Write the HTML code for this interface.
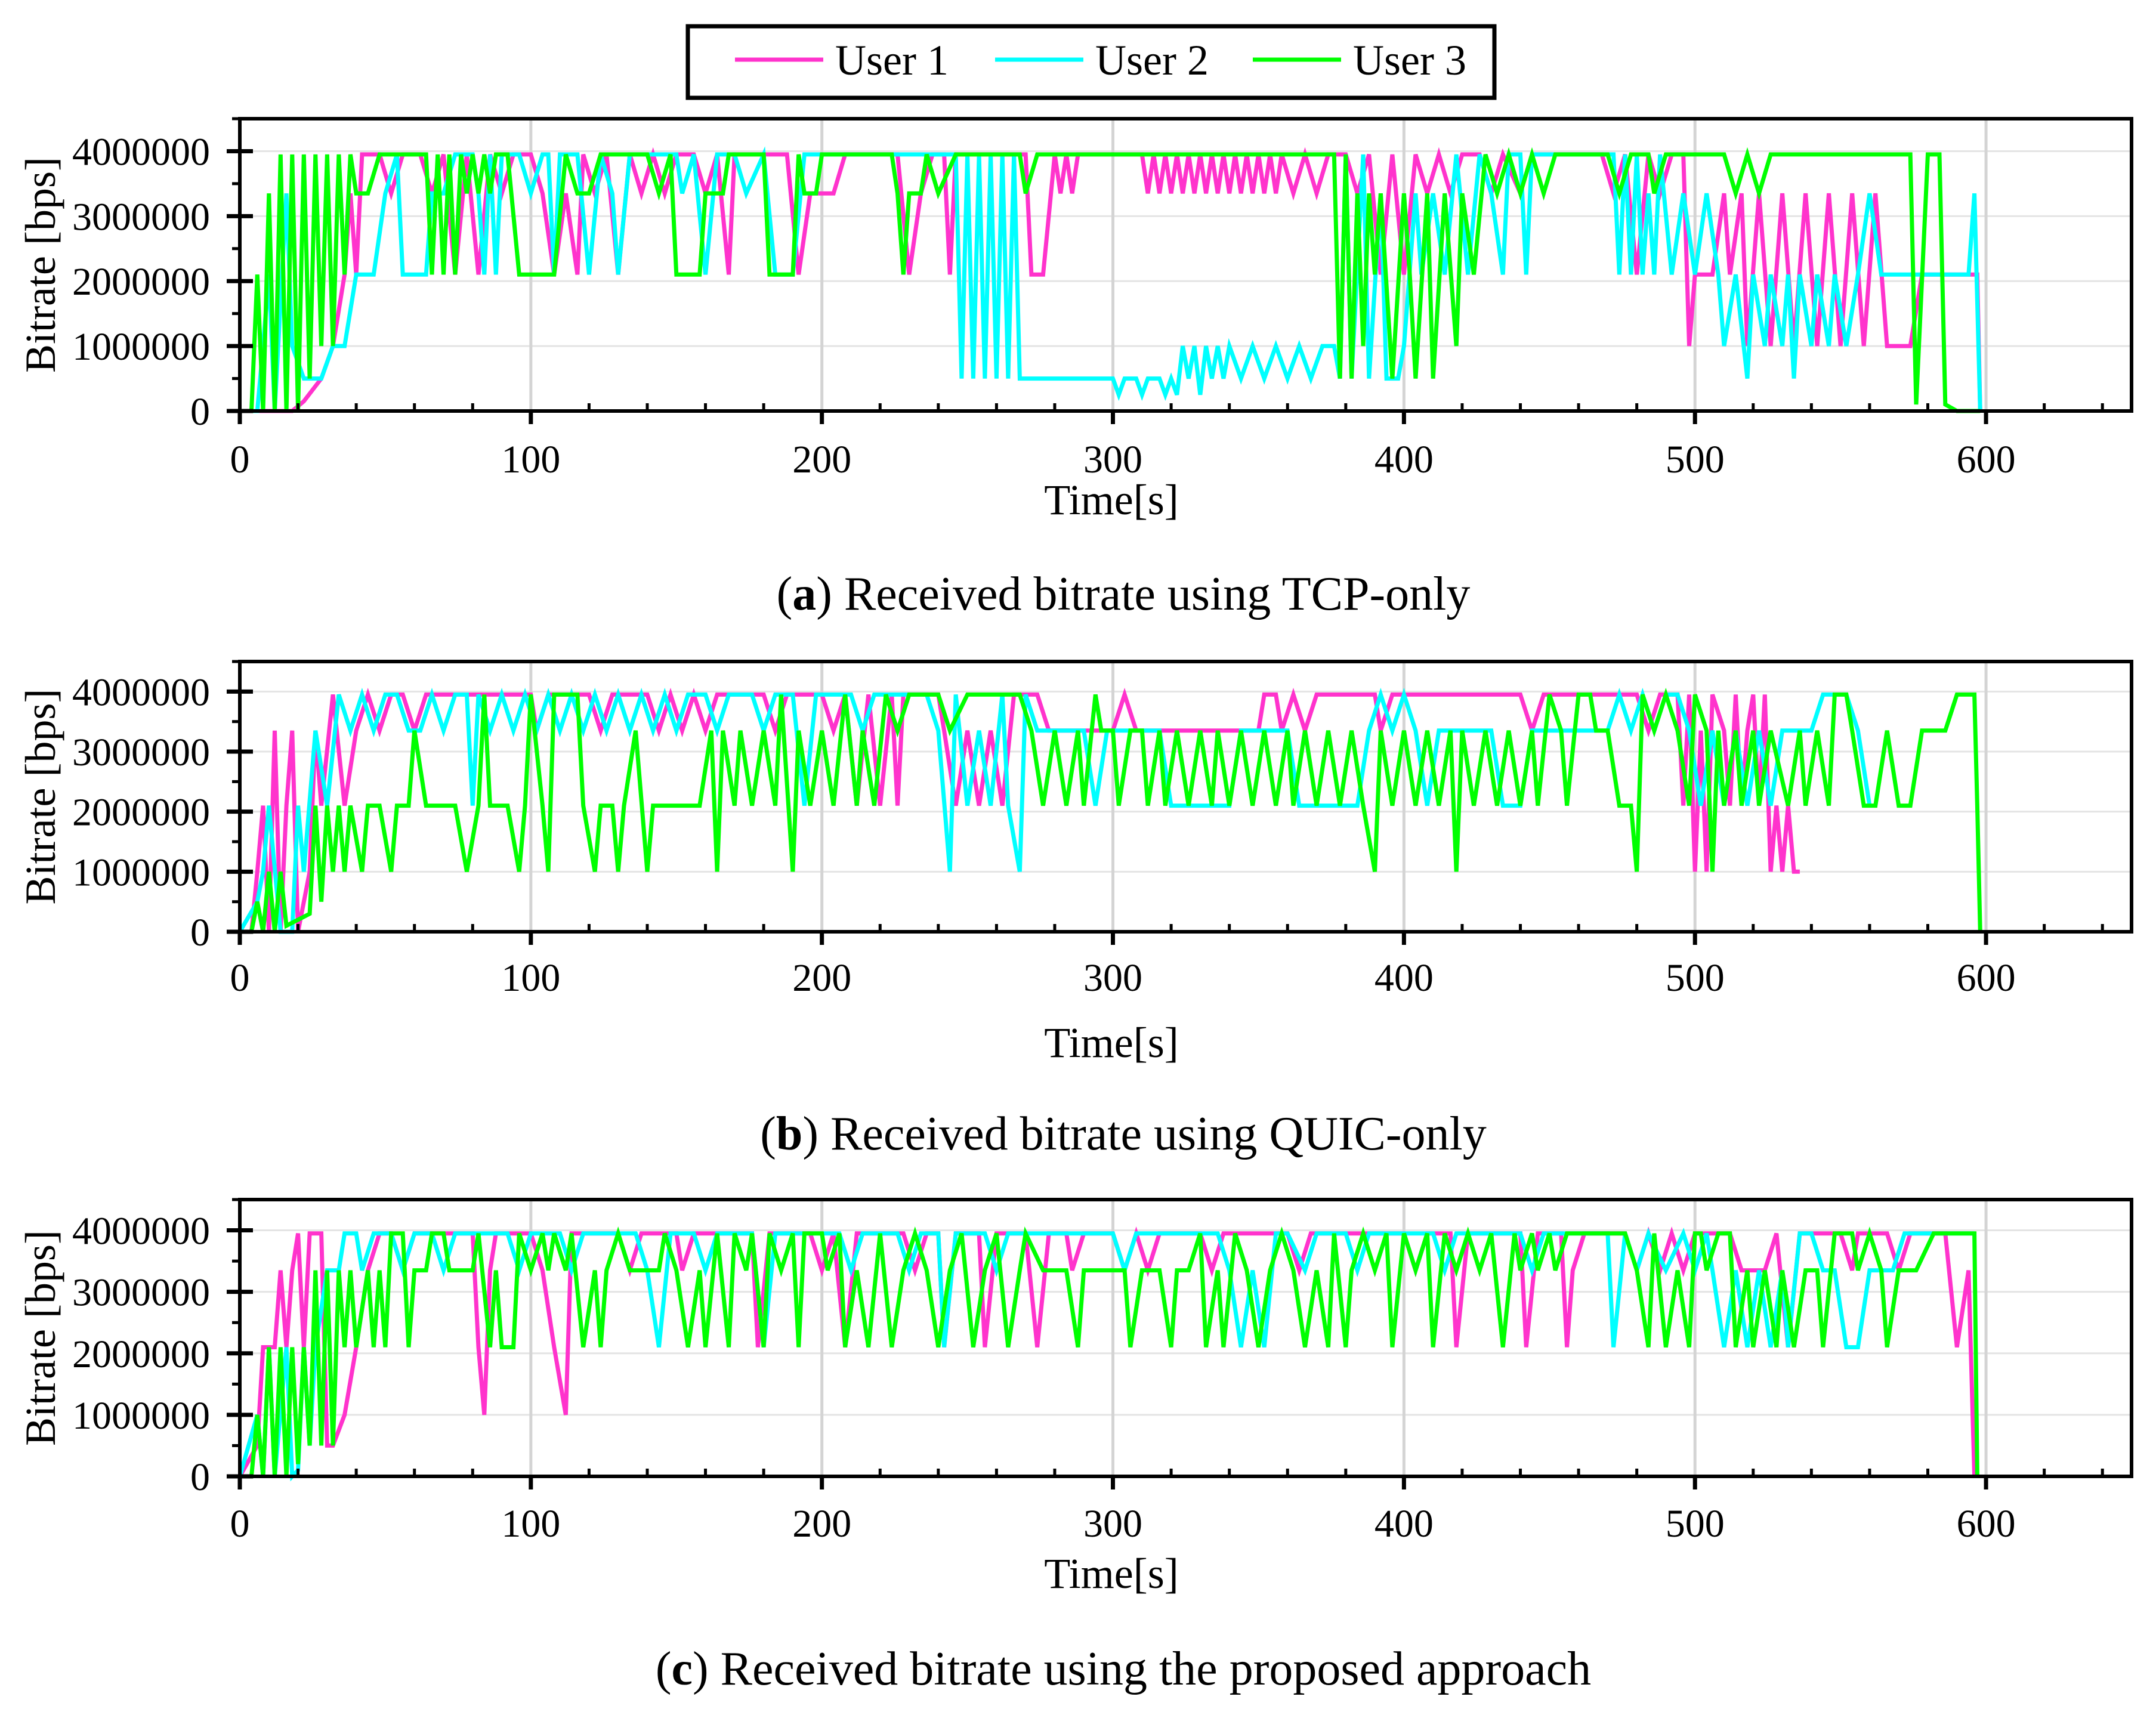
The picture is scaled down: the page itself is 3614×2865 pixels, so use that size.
<!DOCTYPE html>
<html><head><meta charset="utf-8"><style>
html,body{margin:0;padding:0;background:#fff;}
svg{display:block;font-family:"Liberation Serif",serif;}
</style></head><body>
<svg id="chart" width="3614" height="2865" viewBox="0 0 3614 2865" xmlns="http://www.w3.org/2000/svg">
<g>
<rect x="1153" y="44" width="1352" height="120" fill="#fff" stroke="#000" stroke-width="7"/>
<g><line x1="1232" y1="100" x2="1380" y2="100" stroke="#ff33cc" stroke-width="7"/><text x="1400" y="125" font-size="72">User 1</text></g>
<g><line x1="1668" y1="100" x2="1816" y2="100" stroke="#00ffff" stroke-width="7"/><text x="1836" y="125" font-size="72">User 2</text></g>
<g><line x1="2100" y1="100" x2="2248" y2="100" stroke="#00ff00" stroke-width="7"/><text x="2268" y="125" font-size="72">User 3</text></g>
</g>
</svg>
<script>
// values in kbps, time in s
const yTicks = [0, 1000000, 2000000, 3000000, 4000000];
const yTickLabels = ["0","1000000","2000000","3000000","4000000"];
const xTicks = [0,100,200,300,400,500,600];
const xTickLabels = ["0","100","200","300","400","500","600"];
const captionsLetters = ["a","b","c"];
const captionsText = [" Received bitrate using TCP-only"," Received bitrate using QUIC-only"," Received bitrate using the proposed approach"];

const tcpUser1 = [[0,0],[18,0],[22,150],[28,500],[32,1000],[36,2100],[38,3350],[40,2100],[42,3950],[48,3950],[52,3350],[56,3950],[62,3950],[66,3350],[70,3950],[74,2100],[78,3950],[82,2100],[86,3950],[90,3350],[94,3950],[100,3950],[104,3350],[108,2100],[112,3350],[116,2100],[118,3950],[122,3350],[126,3950],[130,2100],[134,3950],[138,3350],[142,3950],[146,3350],[150,3950],[156,3950],[160,3350],[164,3950],[168,2100],[170,3950],[188,3950],[192,2100],[196,3350],[204,3350],[208,3950],[226,3950],[230,2100],[234,3350],[238,3950],[242,3950],[244,2100],[246,3950],[270,3950],[272,2100],[276,2100],[280,3950],[282,3350],[284,3950],[286,3350],[288,3950],[310,3950],[312,3350],[314,3950],[316,3350],[318,3950],[320,3350],[322,3950],[324,3350],[326,3950],[328,3350],[330,3950],[332,3350],[334,3950],[336,3350],[338,3950],[340,3350],[342,3950],[344,3350],[346,3950],[348,3350],[350,3950],[352,3350],[354,3950],[356,3350],[358,3950],[362,3350],[366,3950],[370,3350],[374,3950],[380,3950],[384,3350],[388,3950],[392,2100],[396,3950],[400,2100],[404,3950],[408,3350],[412,3950],[416,3350],[420,3950],[426,3950],[430,3350],[434,3950],[440,3350],[444,3950],[468,3950],[472,3350],[476,3950],[480,2100],[484,3950],[488,3350],[492,3950],[496,3950],[498,1000],[500,2100],[506,2100],[510,3350],[512,2100],[516,3350],[518,1000],[522,3350],[526,1000],[530,3350],[534,1000],[538,3350],[542,1000],[546,3350],[550,1000],[554,3350],[558,1000],[562,3350],[566,1000],[574,1000],[578,2100],[597,2100],[598,0]];
const tcpUser2 = [[0,0],[6,0],[8,1000],[10,2100],[12,0],[16,3350],[18,1000],[22,500],[28,500],[32,1000],[36,1000],[40,2100],[46,2100],[50,3350],[54,3950],[56,2100],[64,2100],[66,3350],[70,3350],[74,3950],[80,3950],[82,3350],[84,2100],[86,3950],[88,2100],[90,3950],[96,3950],[100,3350],[104,3950],[106,3950],[108,2100],[110,3950],[116,3950],[120,2100],[124,3950],[128,3350],[130,2100],[134,3950],[150,3950],[152,3350],[156,3950],[160,2100],[164,3950],[170,3950],[174,3350],[180,3950],[184,2100],[190,2100],[194,3950],[246,3950],[248,500],[250,3950],[252,500],[254,3950],[256,500],[258,3950],[260,500],[262,3950],[264,500],[266,3950],[268,500],[300,500],[302,250],[304,500],[308,500],[310,250],[312,500],[316,500],[318,250],[320,500],[322,250],[324,1000],[326,500],[328,1000],[330,250],[332,1000],[334,500],[336,1000],[338,500],[340,1000],[344,500],[348,1000],[352,500],[356,1000],[360,500],[364,1000],[368,500],[372,1000],[376,1000],[378,500],[380,3950],[382,500],[386,3950],[388,500],[392,3350],[394,500],[398,500],[400,1000],[404,3350],[406,2100],[410,3350],[414,2100],[418,3950],[422,2100],[426,3950],[430,3350],[434,2100],[436,3950],[440,3950],[442,2100],[444,3950],[472,3950],[474,2100],[476,3950],[478,2100],[480,3950],[482,2100],[484,3350],[486,2100],[488,3950],[492,2100],[496,3350],[500,2100],[504,3350],[508,2100],[510,1000],[514,2100],[518,500],[520,2100],[524,1000],[526,2100],[530,1000],[532,2100],[534,500],[536,2100],[540,1000],[542,2100],[546,1000],[548,2100],[552,1000],[556,2100],[560,3350],[564,2100],[594,2100],[596,3350],[598,0]];
const tcpUser3 = [[0,0],[4,0],[6,2100],[8,0],[10,3350],[12,0],[14,3950],[16,0],[18,3950],[20,0],[22,3950],[24,500],[26,3950],[28,1000],[30,3950],[32,1000],[34,3950],[36,2100],[38,3950],[40,3350],[44,3350],[48,3950],[64,3950],[66,2100],[68,3950],[70,2100],[72,3950],[74,2100],[76,3950],[78,3350],[80,3950],[82,3350],[84,3950],[86,3350],[88,3950],[92,3950],[96,2100],[108,2100],[112,3950],[116,3350],[120,3350],[124,3950],[140,3950],[144,3350],[148,3950],[150,2100],[158,2100],[160,3350],[166,3350],[168,3950],[180,3950],[182,2100],[190,2100],[192,3950],[194,3350],[198,3350],[200,3950],[224,3950],[226,3350],[228,2100],[230,3350],[234,3350],[236,3950],[240,3350],[246,3950],[268,3950],[270,3350],[274,3950],[376,3950],[378,500],[380,3950],[382,500],[384,3350],[386,1000],[388,3350],[390,2100],[392,3350],[396,500],[400,3350],[402,2100],[404,500],[408,3350],[410,500],[414,3350],[418,1000],[420,3350],[424,2100],[428,3950],[432,3350],[436,3950],[440,3350],[444,3950],[448,3350],[452,3950],[470,3950],[474,3350],[478,3950],[484,3950],[486,3350],[490,3950],[510,3950],[514,3350],[518,3950],[522,3350],[526,3950],[574,3950],[576,100],[580,3950],[584,3950],[586,100],[590,0],[598,0]];

const quicUser1 = [[0,0],[4,0],[6,1000],[8,2100],[10,0],[12,3350],[14,0],[16,2100],[18,3350],[20,0],[24,1000],[26,3350],[28,2100],[32,3950],[36,2100],[40,3350],[44,3950],[48,3350],[52,3950],[56,3950],[60,3350],[64,3950],[100,3950],[102,3350],[106,3950],[120,3950],[124,3350],[128,3950],[140,3950],[144,3350],[148,3950],[152,3350],[156,3950],[160,3350],[164,3950],[180,3950],[184,3350],[188,3950],[200,3950],[204,3350],[208,3950],[212,2100],[216,3950],[220,2100],[224,3950],[226,2100],[228,3950],[240,3950],[242,3350],[246,2100],[250,3350],[254,2100],[258,3350],[262,2100],[266,3950],[274,3950],[278,3350],[300,3350],[304,3950],[308,3350],[350,3350],[352,3950],[356,3950],[358,3350],[362,3950],[366,3350],[370,3950],[390,3950],[392,3350],[396,3950],[440,3950],[444,3350],[448,3950],[480,3950],[484,3350],[488,3950],[494,3950],[496,2100],[498,3950],[500,1000],[502,3350],[504,1000],[506,3950],[510,3350],[512,2100],[514,3950],[516,2100],[518,3350],[520,3950],[522,2100],[524,3950],[526,1000],[528,2100],[530,1000],[532,2100],[534,1000],[536,1000]];
const quicUser2 = [[0,0],[6,500],[8,1000],[10,2100],[14,0],[18,0],[20,2100],[22,1000],[26,3350],[30,2100],[34,3950],[38,3350],[42,3950],[46,3350],[50,3950],[54,3950],[58,3350],[62,3350],[66,3950],[70,3350],[74,3950],[78,3950],[80,2100],[82,3950],[86,3350],[90,3950],[94,3350],[98,3950],[102,3350],[106,3950],[110,3350],[114,3950],[118,3350],[122,3950],[126,3350],[130,3950],[134,3350],[138,3950],[142,3350],[146,3950],[150,3350],[154,3950],[160,3950],[164,3350],[168,3950],[176,3950],[180,3350],[184,3950],[190,3950],[194,2100],[198,3950],[210,3950],[214,3350],[218,3950],[236,3950],[240,3350],[244,1000],[246,3950],[250,2100],[254,3350],[258,2100],[262,3950],[264,2100],[268,1000],[270,3950],[274,3350],[290,3350],[294,2100],[298,3350],[316,3350],[320,2100],[340,2100],[344,3350],[360,3350],[364,2100],[384,2100],[388,3350],[392,3950],[396,3350],[400,3950],[404,3350],[408,2100],[412,3350],[430,3350],[434,2100],[440,2100],[444,3350],[470,3350],[474,3950],[478,3350],[482,3950],[486,3350],[490,3950],[494,3950],[498,3350],[502,2100],[506,3350],[510,2100],[514,3350],[518,2100],[522,3350],[526,2100],[530,3350],[540,3350],[544,3950],[552,3950],[556,3350],[560,2100]];
const quicUser3 = [[0,0],[4,0],[6,500],[8,0],[10,1000],[12,0],[14,1000],[16,100],[20,200],[24,300],[26,2100],[28,500],[30,2100],[32,1000],[34,2100],[36,1000],[38,2100],[42,1000],[44,2100],[48,2100],[52,1000],[54,2100],[58,2100],[60,3350],[64,2100],[74,2100],[78,1000],[82,2100],[84,3950],[86,2100],[92,2100],[96,1000],[98,2100],[100,3950],[104,2100],[106,1000],[108,3950],[116,3950],[118,2100],[122,1000],[124,2100],[128,2100],[130,1000],[132,2100],[136,3350],[140,1000],[142,2100],[158,2100],[162,3350],[164,1000],[166,3350],[170,2100],[172,3350],[176,2100],[180,3350],[184,2100],[186,3950],[190,1000],[192,3350],[196,2100],[200,3350],[204,2100],[208,3950],[212,2100],[214,3350],[218,2100],[222,3950],[226,3350],[230,3950],[240,3950],[244,3350],[250,3950],[268,3950],[272,3350],[276,2100],[280,3350],[284,2100],[288,3350],[290,2100],[294,3950],[296,3350],[300,3350],[302,2100],[306,3350],[310,3350],[312,2100],[316,3350],[318,2100],[322,3350],[326,2100],[330,3350],[334,2100],[336,3350],[340,2100],[344,3350],[348,2100],[352,3350],[356,2100],[360,3350],[362,2100],[366,3350],[370,2100],[374,3350],[378,2100],[382,3350],[386,2100],[390,1000],[392,3350],[396,2100],[400,3350],[404,2100],[408,3350],[412,2100],[416,3350],[418,1000],[420,3350],[424,2100],[428,3350],[432,2100],[436,3350],[440,2100],[444,3350],[446,2100],[450,3950],[454,3350],[456,2100],[460,3950],[464,3950],[466,3350],[470,3350],[474,2100],[478,2100],[480,1000],[482,3950],[486,3350],[490,3950],[494,3350],[498,2100],[500,3950],[504,3350],[506,1000],[508,3350],[510,2100],[514,3350],[516,2100],[520,3350],[522,2100],[526,3350],[532,2100],[536,3350],[538,2100],[542,3350],[546,2100],[548,3950],[552,3950],[554,3350],[558,2100],[562,2100],[566,3350],[570,2100],[574,2100],[578,3350],[586,3350],[590,3950],[596,3950],[597,2100],[598,0]];

const propUser1 = [[0,0],[6,500],[8,2100],[12,2100],[14,3350],[16,2100],[18,3350],[20,3950],[22,2100],[24,3950],[28,3950],[30,500],[32,500],[36,1000],[40,2100],[44,3350],[48,3950],[52,3950],[56,3350],[60,3950],[80,3950],[82,2100],[84,1000],[86,3350],[88,3950],[100,3950],[104,3350],[108,2100],[112,1000],[114,3950],[130,3950],[134,3350],[138,3950],[150,3950],[152,3350],[156,3950],[176,3950],[178,2100],[182,3950],[196,3950],[200,3350],[204,3950],[208,2100],[212,3950],[228,3950],[232,3350],[236,3950],[240,3950],[242,2100],[246,3950],[254,3950],[256,2100],[260,3950],[270,3950],[274,2100],[278,3950],[284,3950],[286,3350],[290,3950],[300,3950],[304,3350],[308,3950],[312,3350],[316,3950],[330,3950],[334,3350],[338,3950],[360,3950],[364,3350],[368,3950],[400,3950],[404,3350],[408,3950],[416,3950],[418,2100],[422,3950],[440,3950],[442,2100],[446,3950],[454,3950],[456,2100],[458,3350],[462,3950],[476,3950],[480,3350],[484,3950],[488,3350],[492,3950],[496,3350],[500,3950],[512,3950],[516,3350],[524,3350],[528,3950],[532,2100],[536,3950],[550,3950],[554,3350],[556,3950],[566,3950],[570,3350],[574,3950],[586,3950],[590,2100],[594,3350],[596,0]];
const propUser2 = [[0,0],[6,1000],[8,0],[10,2100],[12,0],[16,2100],[18,0],[20,100],[22,2100],[24,500],[26,2100],[30,3350],[34,3350],[36,3950],[40,3950],[42,3350],[46,3950],[52,3950],[56,3350],[60,3950],[66,3950],[70,3350],[74,3950],[92,3950],[96,3350],[100,3950],[110,3950],[114,3350],[118,3950],[136,3950],[140,3350],[144,2100],[148,3950],[156,3950],[160,3350],[164,3950],[176,3950],[180,2100],[184,3950],[206,3950],[210,3350],[214,3950],[226,3950],[230,3350],[234,3950],[240,3950],[242,2100],[246,3950],[256,3950],[260,3350],[264,3950],[300,3950],[304,3350],[308,3950],[336,3950],[340,3350],[344,2100],[348,3350],[352,2100],[356,3950],[360,3950],[366,3350],[370,3950],[380,3950],[384,3350],[388,3950],[410,3950],[414,3350],[418,3950],[440,3950],[444,3350],[448,3950],[470,3950],[472,2100],[476,3950],[480,3350],[484,3950],[490,3350],[496,3950],[500,3350],[504,3950],[506,3350],[510,2100],[514,3350],[518,2100],[522,3350],[526,2100],[530,3350],[532,2100],[536,3950],[540,3950],[544,3350],[548,3350],[552,2100],[556,2100],[560,3350],[568,3350],[572,3950],[596,3950]];
const propUser3 = [[0,0],[4,0],[6,1000],[8,0],[10,2100],[12,0],[14,2100],[16,0],[18,2100],[20,200],[22,2100],[24,500],[26,3350],[28,500],[30,3350],[32,500],[34,3350],[36,2100],[38,3350],[40,2100],[44,3350],[46,2100],[48,3350],[50,2100],[52,3950],[56,3950],[58,2100],[60,3350],[64,3350],[66,3950],[70,3950],[72,3350],[80,3350],[82,3950],[86,2100],[88,3350],[90,2100],[94,2100],[96,3950],[100,3350],[104,3950],[106,3350],[108,3950],[112,3350],[114,3950],[118,2100],[122,3350],[124,2100],[126,3350],[130,3950],[134,3350],[144,3350],[146,3950],[150,3350],[154,2100],[158,3350],[160,2100],[164,3950],[168,2100],[170,3950],[174,3350],[176,3950],[180,2100],[182,3950],[186,3350],[190,3950],[192,2100],[194,3950],[200,3950],[202,3350],[206,3950],[208,2100],[212,3350],[216,2100],[220,3950],[224,2100],[228,3350],[232,3950],[236,3350],[240,2100],[244,3350],[248,3950],[252,2100],[256,3350],[260,3950],[264,2100],[268,3350],[270,3950],[276,3350],[284,3350],[288,2100],[290,3350],[304,3350],[306,2100],[310,3350],[316,3350],[320,2100],[322,3350],[326,3350],[330,3950],[332,2100],[336,3350],[338,2100],[342,3950],[346,3350],[350,2100],[354,3350],[358,3950],[362,3350],[366,2100],[370,3350],[374,2100],[376,3950],[380,2100],[382,3350],[386,3950],[390,3350],[394,3950],[396,2100],[400,3950],[404,3350],[408,3950],[410,2100],[414,3950],[418,3350],[422,3950],[426,3350],[430,3950],[434,2100],[438,3950],[440,3350],[444,3950],[446,3350],[450,3950],[452,3350],[456,3950],[476,3950],[480,3350],[484,2100],[486,3950],[490,2100],[494,3350],[498,2100],[500,3950],[502,3950],[504,3350],[508,3950],[512,3950],[514,2100],[518,3350],[520,2100],[524,3350],[528,2100],[530,3350],[534,2100],[538,3350],[542,3350],[544,2100],[548,3950],[554,3950],[556,3350],[560,3950],[564,3350],[566,2100],[570,3350],[576,3350],[582,3950],[596,3950],[597,0]];

const panelSeries = [[tcpUser1,tcpUser2,tcpUser3],[quicUser1,quicUser2,quicUser3],[propUser1,propUser2,propUser3]];

(function(){
  const NS = "http://www.w3.org/2000/svg";
  const svg = document.getElementById('chart');
  const colors = ["#ff33cc","#00ffff","#00ff00"];
  const L = 402, R = 3573, XMAX = 650, YMAX = 4500000;
  const layout = [
    {top:199, y0:689, lab:792, title:862, cap:1022},
    {top:1109, y0:1562, lab:1661, title:1772, cap:1927},
    {top:2011, y0:2475, lab:2576, title:2662, cap:2824}
  ];
  function mk(tag, attrs, parent){ const e=document.createElementNS(NS,tag); for(const k in attrs) e.setAttribute(k,attrs[k]); (parent||svg).appendChild(e); return e; }
  const xs = t => L + t/XMAX*(R-L);
  layout.forEach((p, pi) => {
    const ys = v => p.y0 - v/YMAX*(p.y0-p.top);
    const g = mk('g',{});
    
    
    yTicks.forEach(v => { if(v>0){ const l=mk('line',{x1:L,x2:R,y1:ys(v),y2:ys(v),stroke:'#e4e4e4','stroke-width':3},g);
        }});
    xTicks.forEach(t => { if(t>0){ const l=mk('line',{x1:xs(t),x2:xs(t),y1:p.top,y2:p.y0,stroke:'#d4d4d4','stroke-width':5},g);
        }});
    panelSeries[pi].forEach((s, si) => {
      const d = s.map((pt,i)=>(i?'L':'M')+xs(pt[0]).toFixed(1)+' '+ys(pt[1]*1000).toFixed(1)).join(' ');
      const path = mk('path',{d:d,fill:'none',stroke:colors[si],'stroke-width':7,'stroke-linejoin':'miter'},g);
      
      
    });
    const box = mk('rect',{x:L,y:p.top,width:R-L,height:p.y0-p.top,fill:'none',stroke:'#000','stroke-width':6},g);
     
    for(let t=0;t<=XMAX;t+=20){ const major = t%100===0;
      mk('line',{x1:xs(t),x2:xs(t),y1:major?p.y0+22:p.y0-13,y2:p.y0,stroke:'#000','stroke-width':major?7:5},g); }
    for(let v=0; v<=YMAX; v+=500000){ const major = v%1000000===0;
      mk('line',{x1:L-(major?22:13),x2:major?L+22:L,y1:ys(v),y2:ys(v),stroke:'#000','stroke-width':major?7:5},g); }
    xTicks.forEach((t,i)=>{ const tx=mk('text',{x:xs(t),y:p.lab,'font-size':66,'text-anchor':'middle'},g); tx.textContent=xTickLabels[i];
        });
    yTicks.forEach((v,i)=>{ const tx=mk('text',{x:352,y:ys(v)+23,'font-size':66,'text-anchor':'end'},g); tx.textContent=yTickLabels[i];
        });
    const xt = mk('text',{x:1863,y:p.title,'font-size':72,'text-anchor':'middle'},g); xt.textContent='Time[s]';
     
    const cy=(p.top+p.y0)/2;
    const yt = mk('text',{x:0,y:0,'font-size':72,'text-anchor':'middle',transform:`translate(92 ${cy}) rotate(-90)`},g); yt.textContent='Bitrate [bps]';
     
    const cap = mk('text',{x:1883,y:p.cap,'font-size':80,'text-anchor':'middle'},g);
     
    const t1=mk('tspan',{},cap); t1.textContent='(';
    const t2=mk('tspan',{'font-weight':'bold'},cap); t2.textContent=captionsLetters[pi];
    const t3=mk('tspan',{},cap); t3.textContent=')'+captionsText[pi];
  });
})();
</script>
</body></html>
